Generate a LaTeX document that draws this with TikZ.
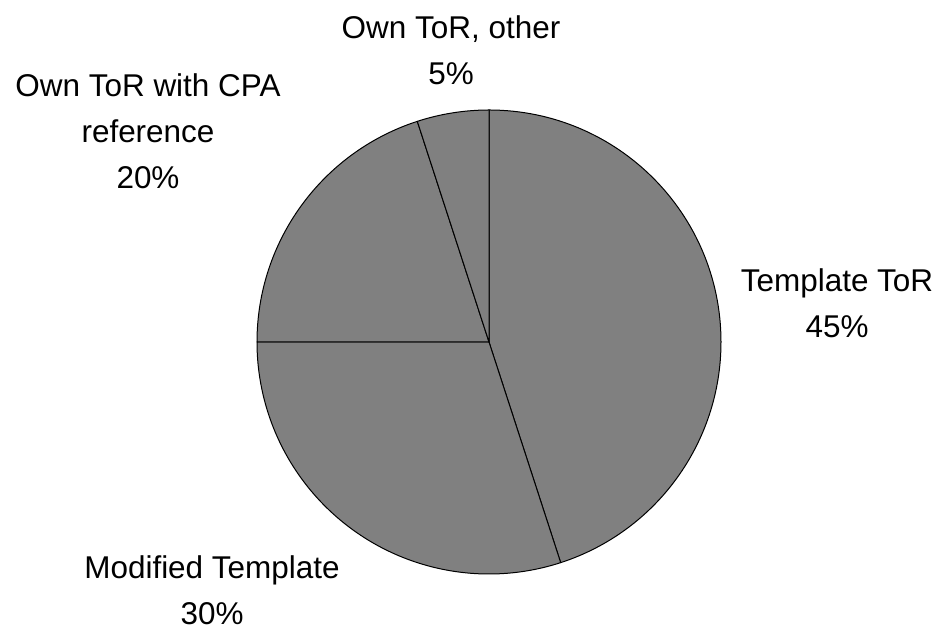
\documentclass[tikz,border=0pt]{standalone}
\usepackage{fontspec}
\setmainfont{Liberation Sans}
\begin{document}
\begin{tikzpicture}[x=0.75pt,y=0.75pt]
\tikzset{
  slice/.style={fill={rgb,255:red,128;green,128;blue,128}, draw=black, line width=0.75pt, line join=round},
  lbl/.style={align=center, inner sep=0pt, font=\fontsize{23.6}{34.5}\selectfont}
}
\useasboundingbox (0,0) rectangle (940,631);
\fill[white] (0,0) rectangle (940,631);
\coordinate (c) at (489,289);
\def\R{232}
\draw[slice] (c) -- ++(90:\R) arc[start angle=90, end angle=-72, radius=\R] -- cycle;
\draw[slice] (c) -- ++(-72:\R) arc[start angle=-72, end angle=-180, radius=\R] -- cycle;
\draw[slice] (c) -- ++(180:\R) arc[start angle=180, end angle=108, radius=\R] -- cycle;
\draw[slice] (c) -- ++(108:\R) arc[start angle=108, end angle=90, radius=\R] -- cycle;
\node[lbl] (other) at (451,581) {Own ToR, other\\5\%};
\node[lbl] (cpa) at (148,500) {Own ToR with CPA\\reference\\20\%};
\node[lbl] (tmpl) at (837,328) {Template ToR\\45\%};
\node[lbl] (mod) at (212,41) {Modified Template\\30\%};
\end{tikzpicture}
\end{document}
